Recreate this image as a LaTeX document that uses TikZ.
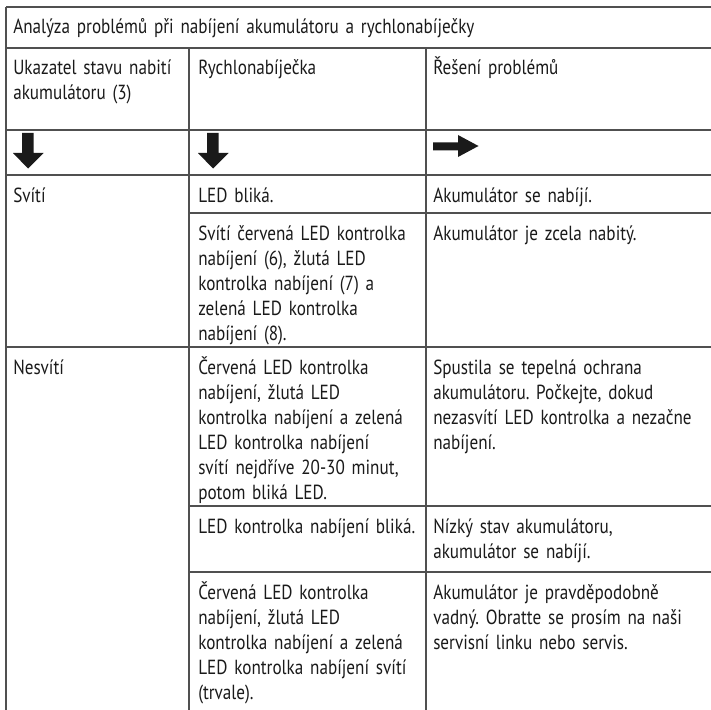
\documentclass[tikz,border=0pt]{standalone}
\usepackage{fontspec}
\setmainfont[FakeStretch=0.84]{PT Sans}
\definecolor{rulegray}{HTML}{505050}
\definecolor{textcol}{HTML}{1A1A1A}
\definecolor{arrowcol}{HTML}{1A1A1A}
\frenchspacing
\begin{document}
\begin{tikzpicture}[x=0.75pt,y=-0.75pt,
  rule/.style={draw=rulegray, line width=1.4pt},
  cell/.style={anchor=base west, inner sep=0pt, align=left, text width=260pt,
    text=textcol, font=\fontsize{15.3}{18.75}\selectfont},
  arr/.style={fill=arrowcol, draw=none}]
\useasboundingbox (0,0) rectangle (711,710);
\fill[white] (0,0) rectangle (711,710);
% horizontal rules
\draw[rule] (6,7) -- (711,7);
\draw[rule] (6,48) -- (711,48);
\draw[rule] (6,130) -- (711,130);
\draw[rule] (6,175) -- (711,175);
\draw[rule] (189,213) -- (711,213);
\draw[rule] (6,347) -- (711,347);
\draw[rule] (189,506) -- (711,506);
\draw[rule] (189,572) -- (711,572);
% vertical rules
\draw[rule] (6,7) -- (6,711);
\draw[rule] (189,48) -- (189,711);
\draw[rule] (426,48) -- (426,711);
% text
\node[cell, text width=520pt] (title) at (13,34) {Analýza problémů při nabíjení akumulátoru a rychlonabíječky};
\node[cell] (h1) at (13,75) {Ukazatel stavu nabití\\akumulátoru (3)};
\node[cell] (h2) at (198,75) {Rychlonabíječka};
\node[cell] (h3) at (433,75) {Řešení problémů};
\node[cell] (r1a) at (13,202) {Svítí};
\node[cell] (r1b) at (198,202) {LED bliká.};
\node[cell] (r1c) at (433,202) {Akumulátor se nabíjí.};
\node[cell] (r2b) at (198,240) {Svítí červená LED kontrolka\\nabíjení (6), žlutá LED\\kontrolka nabíjení (7) a\\zelená LED kontrolka\\nabíjení (8).};
\node[cell] (r2c) at (433,240) {Akumulátor je zcela nabitý.};
\node[cell] (r3a) at (13,374) {Nesvítí};
\node[cell] (r3b) at (198,374) {Červená LED kontrolka\\nabíjení, žlutá LED\\kontrolka nabíjení a zelená\\LED kontrolka nabíjení\\svítí nejdříve 20-30 minut,\\potom bliká LED.};
\node[cell] (r3c) at (433,374) {Spustila se tepelná ochrana\\akumulátoru. Počkejte, dokud\\nezasvítí LED kontrolka a nezačne\\nabíjení.};
\node[cell] (r4b) at (198,533) {LED kontrolka nabíjení bliká.};
\node[cell] (r4c) at (433,533) {Nízký stav akumulátoru,\\akumulátor se nabíjí.};
\node[cell] (r5b) at (198,599) {Červená LED kontrolka\\nabíjení, žlutá LED\\kontrolka nabíjení a zelená\\LED kontrolka nabíjení svítí\\(trvale).};
\node[cell] (r5c) at (433,599) {Akumulátor je pravděpodobně\\vadný. Obratte se prosím na naši\\servisní linku nebo servis.};
% arrows
\fill[arr] (22,133) -- (33.5,133) -- (33.5,153) -- (43.5,153) -- (28,168.5) -- (13,153) -- (22,153) -- cycle;
\fill[arr] (207,133) -- (218.5,133) -- (218.5,153) -- (228.5,153) -- (213,168.5) -- (198,153) -- (207,153) -- cycle;
\fill[arr] (433,142.5) -- (458,142.5) -- (458,135) -- (478.5,146) -- (458,157) -- (458,150.5) -- (433,150.5) -- cycle;
\end{tikzpicture}
\end{document}
